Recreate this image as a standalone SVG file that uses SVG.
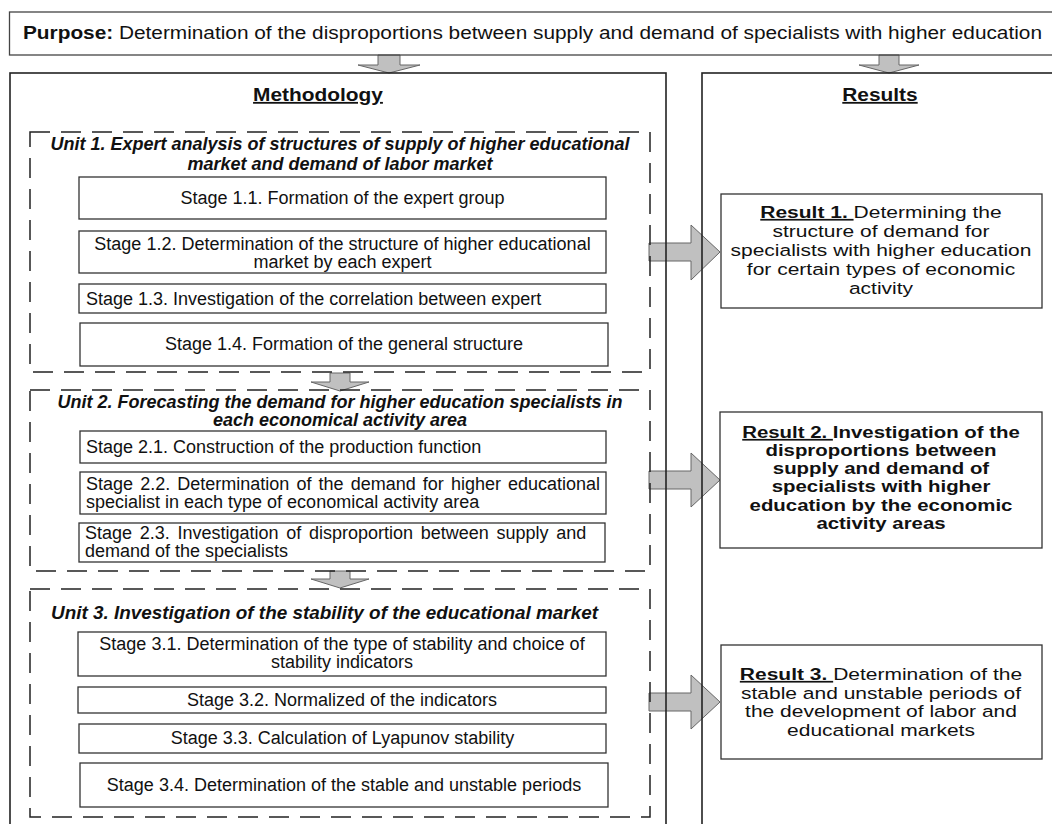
<svg xmlns="http://www.w3.org/2000/svg" width="1052" height="824" viewBox="0 0 1052 824">
<style>
text{font-family:"Liberation Sans",Arial,Helvetica,sans-serif;fill:#111}
.st{font-size:18px}
.ut{font-size:18px;font-weight:bold;font-style:italic}
.rs{font-size:17px}
.hd{font-size:18px;font-weight:bold;text-decoration:underline}
.b{font-weight:bold}
.u{text-decoration:underline;font-weight:bold}
.box{fill:#fff;stroke:#333;stroke-width:1.3}
.frame{fill:none;stroke:#222;stroke-width:1.6}
.dash{fill:none;stroke:#222;stroke-width:1.5;stroke-dasharray:20 11}
.arrow{fill:#c0c0c0;stroke:#666;stroke-width:1}
</style>
<rect width="1052" height="824" fill="#fff"/>

<g id="connectors">
  <polygon class="arrow" points="378,55 400,55 400,65 420,65 389,73 358,65 378,65"/>
  <polygon class="arrow" points="879,55 899,55 899,65 919,65 889,73 859,65 879,65"/>
  <polygon class="arrow" points="330,373 350,373 350,382 369,382 340,391 311,382 330,382"/>
  <polygon class="arrow" points="330,571 350,571 350,579 369,579 340,588 311,579 330,579"/>
  <polygon class="arrow" points="649,243 691,243 691,225 720,252 691,280 691,261 649,261"/>
  <polygon class="arrow" points="649,471 691,471 691,453 720,480 691,507 691,489 649,489"/>
  <polygon class="arrow" points="649,693 691,693 691,675 720,702 691,729 691,711 649,711"/>
</g>

<g id="purpose">
  <rect x="9.5" y="12" width="1050" height="43" fill="none" stroke="#444" stroke-width="1.3"/>
  <text x="23" y="39" style="font-size:17.5px" transform="translate(23,0) scale(1.19,1) translate(-23,0)"><tspan class="b">Purpose:</tspan> Determination of the disproportions between supply and demand of specialists with higher education</text>
</g>

<g id="methodology">
  <rect class="frame" x="10" y="73" width="656" height="760"/>
  <text class="hd" x="318" y="101" text-anchor="middle" transform="translate(318,0) scale(1.16,1) translate(-318,0)">Methodology</text>
</g>

<g id="results">
  <rect class="frame" x="702" y="73" width="360" height="760"/>
  <text class="hd" x="880" y="101" text-anchor="middle" transform="translate(880,0) scale(1.16,1) translate(-880,0)">Results</text>
</g>

<g id="unit1">
  <rect class="dash" x="30" y="132" width="620" height="240"/>
  <text class="ut" x="340" y="150" text-anchor="middle">Unit 1. Expert analysis of structures of supply of higher educational</text>
  <text class="ut" x="340" y="170" text-anchor="middle">market and demand of labor market</text>
</g>
<g id="stage1_1">
  <rect class="box" x="79" y="177" width="527" height="42"/>
  <text class="st" x="342.5" y="204" text-anchor="middle">Stage 1.1. Formation of the expert group</text>
</g>
<g id="stage1_2">
  <rect class="box" x="79" y="231" width="527" height="42"/>
  <text class="st" x="342.5" y="250" text-anchor="middle">Stage 1.2. Determination of the structure of higher educational</text>
  <text class="st" x="342.5" y="268" text-anchor="middle">market by each expert</text>
</g>
<g id="stage1_3">
  <rect class="box" x="79" y="284" width="527" height="29"/>
  <text class="st" x="86" y="305">Stage 1.3. Investigation of the correlation between expert</text>
</g>
<g id="stage1_4">
  <rect class="box" x="80" y="323" width="528" height="43"/>
  <text class="st" x="344" y="350" text-anchor="middle">Stage 1.4. Formation of the general structure</text>
</g>

<g id="unit2">
  <rect class="dash" x="30" y="390" width="620" height="181"/>
  <text class="ut" x="340" y="408" text-anchor="middle">Unit 2. Forecasting the demand for higher education specialists in</text>
  <text class="ut" x="340" y="426" text-anchor="middle">each economical activity area</text>
</g>
<g id="stage2_1">
  <rect class="box" x="80" y="431" width="526" height="32"/>
  <text class="st" x="86" y="453">Stage 2.1. Construction of the production function</text>
</g>
<g id="stage2_2">
  <rect class="box" x="80" y="472" width="526" height="42"/>
  <text class="st" x="86" y="490" word-spacing="2.1">Stage 2.2. Determination of the demand for higher educational</text>
  <text class="st" x="86" y="508">specialist  in each type of economical activity area</text>
</g>
<g id="stage2_3">
  <rect class="box" x="79" y="523" width="526" height="39"/>
  <text class="st" x="85" y="539" word-spacing="2.7">Stage 2.3. Investigation of disproportion between supply and</text>
  <text class="st" x="85" y="557">demand of the specialists</text>
</g>

<g id="unit3">
  <rect class="dash" x="30" y="589" width="620" height="228"/>
  <text class="ut" x="51" y="619" textLength="547" lengthAdjust="spacingAndGlyphs">Unit 3. Investigation of the stability of the educational market</text>
</g>
<g id="stage3_1">
  <rect class="box" x="78" y="632" width="528" height="44"/>
  <text class="st" x="342" y="650" text-anchor="middle">Stage 3.1. Determination of the type of stability and choice of</text>
  <text class="st" x="342" y="668" text-anchor="middle">stability indicators</text>
</g>
<g id="stage3_2">
  <rect class="box" x="78" y="687" width="528" height="26"/>
  <text class="st" x="342" y="706" text-anchor="middle">Stage 3.2. Normalized of the indicators</text>
</g>
<g id="stage3_3">
  <rect class="box" x="79" y="724" width="527" height="29"/>
  <text class="st" x="342.5" y="744" text-anchor="middle">Stage 3.3. Calculation of Lyapunov stability</text>
</g>
<g id="stage3_4">
  <rect class="box" x="80" y="763" width="528" height="44"/>
  <text class="st" x="344" y="791" text-anchor="middle">Stage 3.4. Determination of the stable and unstable periods</text>
</g>

<g id="result1">
  <rect class="box" x="721" y="194" width="321" height="114"/>
  <g transform="translate(881,0) scale(1.235,1) translate(-881,0)">
    <text class="rs" x="881" y="218" text-anchor="middle"><tspan class="u">Result 1. </tspan>Determining the</text>
    <text class="rs" x="881" y="237" text-anchor="middle">structure of demand for</text>
    <text class="rs" x="881" y="256" text-anchor="middle">specialists with higher education</text>
    <text class="rs" x="881" y="275" text-anchor="middle">for certain types of economic</text>
    <text class="rs" x="881" y="294" text-anchor="middle">activity</text>
  </g>
</g>
<g id="result2">
  <rect class="box" x="720" y="412" width="322" height="136"/>
  <g transform="translate(881,0) scale(1.2,1) translate(-881,0)">
    <text class="rs b" x="881" y="438" text-anchor="middle"><tspan class="u">Result 2. </tspan>Investigation of the</text>
    <text class="rs b" x="881" y="456" text-anchor="middle">disproportions between</text>
    <text class="rs b" x="881" y="474" text-anchor="middle">supply and demand of</text>
    <text class="rs b" x="881" y="492" text-anchor="middle">specialists with higher</text>
    <text class="rs b" x="881" y="511" text-anchor="middle">education by the economic</text>
    <text class="rs b" x="881" y="529" text-anchor="middle">activity areas</text>
  </g>
</g>
<g id="result3">
  <rect class="box" x="721" y="645" width="321" height="114"/>
  <g transform="translate(881,0) scale(1.235,1) translate(-881,0)">
    <text class="rs" x="881" y="680" text-anchor="middle"><tspan class="u">Result 3. </tspan>Determination of the</text>
    <text class="rs" x="881" y="699" text-anchor="middle">stable and unstable periods of</text>
    <text class="rs" x="881" y="717" text-anchor="middle">the development of labor and</text>
    <text class="rs" x="881" y="736" text-anchor="middle">educational markets</text>
  </g>
</g>
</svg>
